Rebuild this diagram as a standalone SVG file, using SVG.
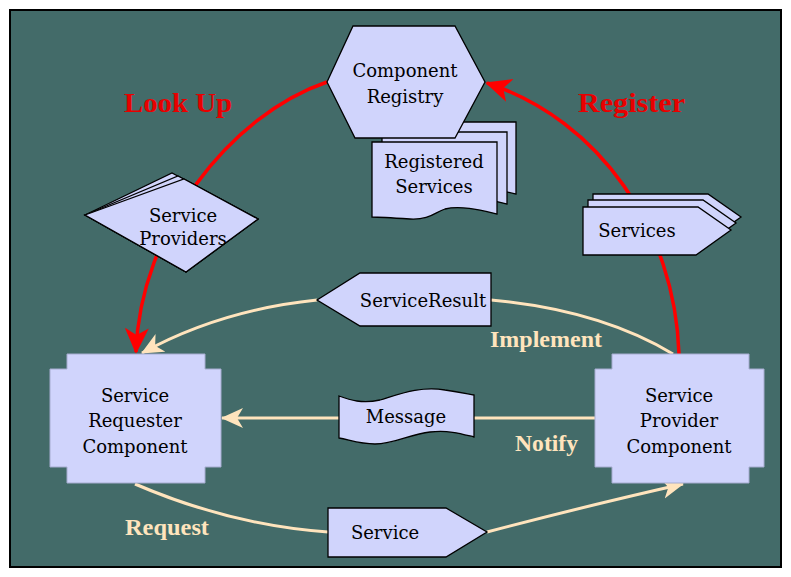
<svg xmlns="http://www.w3.org/2000/svg" width="791" height="577" viewBox="0 0 791 577">
<style>
.bg{fill:#436b69;stroke:#000;stroke-width:2}
.nd{fill:#d0d4fc;stroke:#000;stroke-width:1.3}
.box{fill:#d0d4fc;stroke:#a6acd0;stroke-width:1}
.t{font-family:"DejaVu Serif","Liberation Serif",serif;font-size:18px;fill:#000;text-anchor:middle}
.red{fill:none;stroke:#f00;stroke-width:3.5}
.wh{fill:none;stroke:#ffe4bd;stroke-width:3}
.lr{font-family:"Liberation Serif",serif;font-weight:bold;font-size:27px;fill:#e80000}
.lw{font-family:"Liberation Serif",serif;font-weight:bold;font-size:23px;fill:#ffe4bd}
</style>
<defs>
<marker id="ar" markerUnits="userSpaceOnUse" markerWidth="28" markerHeight="26" refX="24" refY="12" orient="auto" viewBox="0 0 28 26">
<path d="M0,0 L26,12 L0,24 L7,12 Z" fill="#f00"/>
</marker>
<marker id="aw" markerUnits="userSpaceOnUse" markerWidth="24" markerHeight="22" refX="21" refY="10" orient="auto" viewBox="0 0 24 22">
<path d="M0,0 L22,10 L0,20 L6,10 Z" fill="#ffe4bd"/>
</marker>
</defs>
<rect class="bg" x="10" y="10" width="771" height="557"/>
<g id="connectors">
<path class="red" d="M327,82 C230,115 140,230 136,352" marker-end="url(#ar)"/>
<path class="red" d="M679,354 C675,230 600,120 487,83" marker-end="url(#ar)"/>
<path class="wh" d="M673,354 Q600,310 491,300"/>
<path class="wh" d="M317,300 Q220,310 142,353" marker-end="url(#aw)"/>
<path class="wh" d="M595,418 L474,418"/>
<path class="wh" d="M339,418 L222,418" marker-end="url(#aw)"/>
<path class="wh" d="M135,484 Q230,525 328,532"/>
<path class="wh" d="M487,532 Q590,505 683,484" marker-end="url(#aw)"/>
</g>
<g id="labels">
<text class="lr" x="124" y="112" textLength="108" lengthAdjust="spacingAndGlyphs">Look Up</text>
<text class="lr" x="578" y="112" textLength="107" lengthAdjust="spacingAndGlyphs">Register</text>
<text class="lw" x="490" y="347" textLength="112" lengthAdjust="spacingAndGlyphs">Implement</text>
<text class="lw" x="515" y="451" textLength="63" lengthAdjust="spacingAndGlyphs">Notify</text>
<text class="lw" x="125" y="535" textLength="84" lengthAdjust="spacingAndGlyphs">Request</text>
</g>
<g id="registered-services">
<path class="nd" stroke-width="2" d="M391,122 H516 V194 C499,190 479,185 464,189 C454,192 449,200 429,199 C414,198 399,197 391,197 Z"/>
<path class="nd" stroke-width="2" d="M382,132 H507 V204 C490,200 470,195 455,199 C445,202 440,210 420,209 C405,208 390,207 382,207 Z"/>
<path class="nd" stroke-width="2" d="M372,142 H497 V214 C480,210 460,205 445,209 C435,212 430,220 410,219 C395,218 380,217 372,217 Z"/>
<text class="t" x="434" y="168">Registered</text>
<text class="t" x="434" y="193">Services</text>
</g>
<g id="component-registry">
<polygon class="nd" points="353,26 455,26 485,82 455,138 355,138 327,82"/>
<text class="t" x="405" y="77">Component</text>
<text class="t" x="405" y="103">Registry</text>
</g>
<g id="service-providers">
<polygon class="nd" points="85,215 172,173 258,219 186,272"/>
<polygon class="nd" points="85,215 178,176 258,219 186,272"/>
<polygon class="nd" points="85,215 184,179 258,219 186,272"/>
<text class="t" x="183" y="222">Service</text>
<text class="t" x="183" y="245">Providers</text>
</g>
<g id="services">
<polygon class="nd" points="593,194 708,194 741,217 706,242 593,242"/>
<polygon class="nd" points="588,200 703,200 736,223 701,248 588,248"/>
<polygon class="nd" points="583,207 698,207 731,230 696,255 583,255"/>
<text class="t" x="637" y="237">Services</text>
</g>
<g id="service-requester">
<path class="box" d="M67,354 H205 V369 H221 V467 H205 V483 H67 V467 H50 V369 H67 Z"/>
<text class="t" x="135" y="402">Service</text>
<text class="t" x="135" y="427">Requester</text>
<text class="t" x="135" y="453">Component</text>
</g>
<g id="service-provider">
<path class="box" d="M612,354 H749 V369 H764 V467 H749 V483 H612 V467 H595 V369 H612 Z"/>
<text class="t" x="679" y="402">Service</text>
<text class="t" x="679" y="427">Provider</text>
<text class="t" x="679" y="453">Component</text>
</g>
<g id="service-result">
<polygon class="nd" points="317,300 360,273 491,273 491,326 360,326"/>
<text class="t" x="423" y="307">ServiceResult</text>
</g>
<g id="message">
<path class="nd" d="M339,396 C350,400 362,404 380,400 C400,394 420,386 445,390 C460,392 468,394 474,395 V437 C462,434 450,430 430,432 C410,434 395,444 375,444 C360,444 350,440 339,438 Z"/>
<text class="t" x="406" y="423">Message</text>
</g>
<g id="service">
<polygon class="nd" points="328,508 446,508 487,532 446,557 328,557"/>
<text class="t" x="385" y="539">Service</text>
</g>
</svg>
